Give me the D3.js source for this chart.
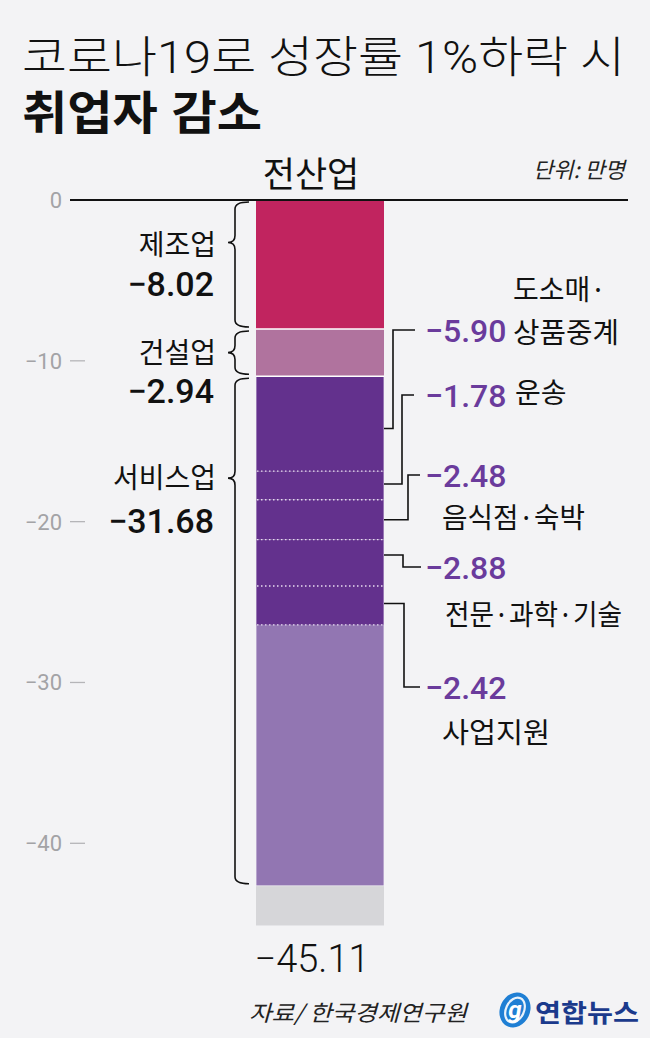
<!DOCTYPE html>
<html>
<head>
<meta charset="utf-8">
<script src="https://cdn.jsdelivr.net/npm/d3@7/dist/d3.min.js"></script>
<style>
  html, body { margin: 0; padding: 0; background: #f3f3f5; }
  svg { display: block; }
  .kr { font-family: "Noto Sans CJK KR", "Noto Sans", sans-serif; }
  .ttl1 { font-family: Roboto, "Noto Sans CJK KR", sans-serif; }
  .ttl { font-family: "Liberation Sans", "Noto Sans CJK KR", sans-serif; }
  .num { font-family: Roboto, "Liberation Sans", sans-serif; }
</style>
</head>
<body>
<svg id="chart" width="650" height="1038"></svg>
<script>
// ---------------- data ----------------
const titleLine1 = "코로나19로 성장률 1%하락 시";
const titleLine2 = "취업자 감소";
const barCategory = ["전산업"];
const unitLabel = "단위: 만명";
const sourceLabel = "자료/ 한국경제연구원";
const logoLabel = "연합뉴스";

const sectors = ["제조업", "건설업", "서비스업"];
const sectorValues = [-8.02, -2.94, -31.68];

const serviceSubs = ["도소매·상품중계", "운송", "음식점·숙박", "전문·과학·기술", "사업지원"];
const serviceSubValues = [-5.90, -1.78, -2.48, -2.88, -2.42];

const totalValue = -45.11;
const tickValues = [0, -10, -20, -30, -40];

// ---------------- setup ----------------
const svg = d3.select("#chart");
svg.append("rect").attr("width", 650).attr("height", 1038).attr("fill", "#f3f3f5");

const y = d3.scaleLinear().domain([0, -40]).range([200, 843.3]);
const x = d3.scaleBand().domain(barCategory).range([256, 384]).padding(0);
const bx0 = x(barCategory[0]), bw = x.bandwidth(), bx1 = bx0 + bw;

const fmt = v => "\u2212" + d3.format(".2f")(Math.abs(v));

// ---------------- title ----------------
svg.append("text").attr("class", "ttl1").attr("fill", "#111")
  .attr("x", 22).attr("y", 73)
  .attr("font-size", 44).attr("font-weight", 300)
  .attr("textLength", 603).attr("lengthAdjust", "spacingAndGlyphs")
  .text(titleLine1);
svg.append("text").attr("class", "ttl").attr("fill", "#111")
  .attr("x", 22).attr("y", 129)
  .attr("font-size", 46).attr("font-weight", 700)
  .attr("textLength", 240).attr("lengthAdjust", "spacingAndGlyphs")
  .text(titleLine2);

svg.append("text").attr("class", "kr")
  .attr("x", (bx0 + bx1) / 2 - 9).attr("y", 187).attr("text-anchor", "middle")
  .attr("font-size", 35).attr("fill", "#111")
  .text(barCategory[0]);

svg.append("text").attr("class", "kr")
  .attr("x", 625).attr("y", 178).attr("text-anchor", "end")
  .attr("font-size", 22).attr("font-style", "italic").attr("fill", "#222")
  .text(unitLabel);

// ---------------- segments ----------------
const otherServices = sectorValues[2] - d3.sum(serviceSubValues);
const remainder = totalValue - d3.sum(sectorValues);
const segs = [
  { v: sectorValues[0], c: "#c1245f" },
  { v: sectorValues[1], c: "#b0739e" },
  ...serviceSubValues.map(v => ({ v, c: "#63318d", sub: true })),
  { v: otherServices, c: "#9276b2" },
  { v: remainder, c: "#d6d6d9" }
];
let acc = 0;
segs.forEach(s => { s.start = acc; acc += s.v; s.end = acc; });

svg.append("g").selectAll("rect").data(segs).join("rect")
  .attr("x", bx0).attr("width", bw)
  .attr("y", d => y(d.start)).attr("height", d => y(d.end) - y(d.start))
  .attr("fill", d => d.c);

// thin light edges
svg.append("g").selectAll("line").data([bx0 + 0.5, bx1 - 0.5]).join("line")
  .attr("x1", d => d).attr("x2", d => d)
  .attr("y1", y(sectorValues[0] + sectorValues[1])).attr("y2", y(d3.sum(sectorValues)))
  .attr("stroke", "#fff").attr("stroke-opacity", 0.35).attr("stroke-width", 1);

// solid separators
const solidSeps = [segs[0].end, segs[1].end, segs[7].end];
svg.append("g").selectAll("line").data(solidSeps).join("line")
  .attr("x1", bx0).attr("x2", bx1)
  .attr("y1", d => y(d)).attr("y2", d => y(d))
  .attr("stroke", "#fff").attr("stroke-width", (d, i) => i < 2 ? 1.6 : 0.8)
  .attr("stroke-opacity", (d, i) => i < 2 ? 1 : 0.5);

// dotted separators
const dotSeps = segs.filter(s => s.sub).map(s => s.end);
svg.append("g").selectAll("line").data(dotSeps).join("line")
  .attr("x1", bx0 + 1).attr("x2", bx1 - 1)
  .attr("y1", d => y(d)).attr("y2", d => y(d))
  .attr("stroke", "#e6dcef").attr("stroke-width", 1.4)
  .attr("stroke-dasharray", "1.5 2.5");

// ---------------- axis ----------------
svg.append("line").attr("x1", 70).attr("x2", 628).attr("y1", y(0)).attr("y2", y(0))
  .attr("stroke", "#111").attr("stroke-width", 2);

const axisG = svg.append("g");
axisG.selectAll("text").data(tickValues).join("text").attr("class", "num")
  .attr("x", 62).attr("y", d => y(d) + 8).attr("text-anchor", "end")
  .attr("font-size", 22).attr("font-weight", 400).attr("fill", "#a3a3a6")
  .text(d => d === 0 ? "0" : "\u2212" + Math.abs(d));
axisG.selectAll("line").data(tickValues.filter(d => d !== 0)).join("line")
  .attr("x1", 70).attr("x2", 85).attr("y1", d => y(d)).attr("y2", d => y(d))
  .attr("stroke", "#b5b5b8").attr("stroke-width", 1.3);

// ---------------- left braces ----------------
function bracePath(y1, y2, yt, xs, xe, xt) {
  const r = 7;
  return `M${xe},${y1} Q${xs},${y1} ${xs},${y1 + r} L${xs},${yt - r} Q${xs},${yt} ${xt},${yt}` +
         ` Q${xs},${yt} ${xs},${yt + r} L${xs},${y2 - r} Q${xs},${y2} ${xe},${y2}`;
}
const sectorStarts = [0, sectorValues[0], sectorValues[0] + sectorValues[1]];
const braceTipFrac = [0.33, 0.5, 0.2];
const labelNameY = [255, 363, 488];
const labelNumY = [296, 403, 533];

sectors.forEach((s, i) => {
  const y1 = y(sectorStarts[i]) + 2, y2 = y(sectorStarts[i] + sectorValues[i]) - 2;
  const yt = y(sectorStarts[i] + sectorValues[i] * braceTipFrac[i]);
  svg.append("path").attr("d", bracePath(y1, y2, yt, 235, 249, 228))
    .attr("fill", "none").attr("stroke", "#111").attr("stroke-width", 1.6);
  svg.append("text").attr("class", "kr")
    .attr("x", 216).attr("y", labelNameY[i]).attr("text-anchor", "end")
    .attr("font-size", 28).attr("fill", "#111").text(s);
  svg.append("text").attr("class", "num")
    .attr("x", 214).attr("y", labelNumY[i]).attr("text-anchor", "end")
    .attr("font-size", 34).attr("font-weight", 500).attr("fill", "#111")
    .text(fmt(sectorValues[i]));
});

// ---------------- right connectors ----------------
const subSegs = segs.filter(s => s.sub);
const attachFrac = [0.55, 0.45, 0.5, 0.33, 0.45];
const elbowX = [393, 402, 408, 403, 404];
const lineY = [330, 395, 475, 567, 687];
const lineEndX = [415, 414, 420, 421, 420];
const nameLines = [["도소매·", "상품중계"], ["운송"], ["음식점·숙박"], ["전문·과학·기술"], ["사업지원"]];
const namePos = [
  [[513, 300], [513, 343]],
  [[515, 403]],
  [[442, 528]],
  [[445, 625]],
  [[442, 743]]
];
const nameLen = [[null, 106], [null], [143], [177], [108]];

subSegs.forEach((s, i) => {
  const ya = y(s.start + s.v * attachFrac[i]);
  svg.append("path")
    .attr("d", `M${bx1},${ya} H${elbowX[i]} V${lineY[i]} H${lineEndX[i]}`)
    .attr("fill", "none").attr("stroke", "#111").attr("stroke-width", 1.6);
  svg.append("text").attr("class", "num")
    .attr("x", 425).attr("y", lineY[i] + 12)
    .attr("font-size", 32).attr("font-weight", 500).attr("fill", "#6a3b9c")
    .text(fmt(serviceSubValues[i]));
  nameLines[i].forEach((t, j) => {
    const tx = svg.append("text").attr("class", "kr")
      .attr("x", namePos[i][j][0]).attr("y", namePos[i][j][1])
      .attr("font-size", 28).attr("fill", "#111").text(t);
    if (nameLen[i][j]) tx.attr("textLength", nameLen[i][j]).attr("lengthAdjust", "spacingAndGlyphs");
  });
});

// ---------------- total ----------------
svg.append("text").attr("class", "num")
  .attr("x", 312).attr("y", 972).attr("text-anchor", "middle")
  .attr("font-size", 38).attr("font-weight", 300).attr("fill", "#111")
  .text(fmt(totalValue));

// ---------------- footer ----------------
svg.append("text").attr("class", "kr")
  .attr("x", 249).attr("y", 1021)
  .attr("font-size", 22).attr("font-style", "italic").attr("fill", "#222")
  .attr("textLength", 218).attr("lengthAdjust", "spacingAndGlyphs")
  .text(sourceLabel);

const logo = svg.append("g").attr("transform", "translate(515,1010)");
logo.append("ellipse").attr("rx", 15).attr("ry", 18).attr("transform", "rotate(25)")
  .attr("fill", "#1f7fd4");
logo.append("ellipse").attr("rx", 9).attr("ry", 13).attr("transform", "rotate(25)")
  .attr("fill", "none").attr("stroke", "#fff").attr("stroke-width", 2.2).attr("stroke-opacity", 0.9);
logo.append("text").attr("class", "num").attr("x", 0).attr("y", 8).attr("text-anchor", "middle")
  .attr("font-size", 24).attr("font-style", "italic").attr("font-weight", 700).attr("fill", "#fff")
  .text("g");
svg.append("text").attr("class", "kr")
  .attr("x", 535).attr("y", 1022)
  .attr("font-size", 25).attr("font-weight", 700).attr("fill", "#1b3a8c")
  .attr("textLength", 104).attr("lengthAdjust", "spacingAndGlyphs")
  .text(logoLabel);
</script>
</body>
</html>
